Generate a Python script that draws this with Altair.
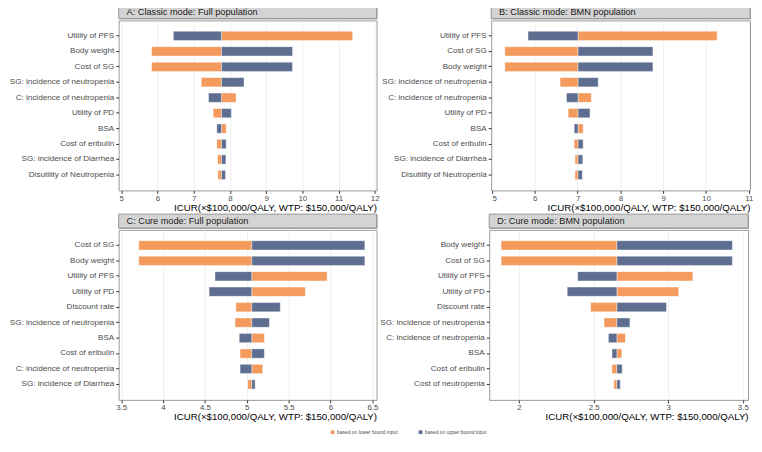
import altair as alt
import pandas as pd

# ---------------- data ----------------
bounds = ["based on lower bound input", "based on upper bound input"]
bound_colors = ["#F39A5C", "#5E6E90"]

titles = ["A: Classic mode: Full population", "B: Classic mode: BMN population",
          "C: Cure mode: Full population", "D: Cure mode: BMN population"]

params_A = ["Utility of PFS", "Body weight", "Cost of SG", "SG: incidence of neutropenia",
            "C: incidence of neutropenia", "Utility of PD", "BSA", "Cost of eribulin",
            "SG: incidence of Diarrhea", "Disutility of Neutropenia"]
lower_A = [11.39, 5.84, 5.84, 7.21, 8.17, 7.54, 7.90, 7.64, 7.66, 7.67]
upper_A = [6.44, 9.73, 9.73, 8.39, 7.41, 8.04, 7.64, 7.90, 7.89, 7.88]
base_A = 7.77
domain_A = [4.93, 12.05]
ticks_A = [5, 6, 7, 8, 9, 10, 11, 12]

params_B = ["Utility of PFS", "Cost of SG", "Body weight", "SG: incidence of neutropenia",
            "C: incidence of neutropenia", "Utility of PD", "BSA", "Cost of eribulin",
            "SG: incidence of Diarrhea", "Disutility of Neutropenia"]
lower_B = [10.26, 5.30, 5.30, 6.59, 7.32, 6.78, 7.13, 6.92, 6.94, 6.94]
upper_B = [5.84, 8.76, 8.76, 7.48, 6.74, 7.29, 6.92, 7.13, 7.12, 7.11]
base_B = 7.01
domain_B = [4.98, 11.03]
ticks_B = [5, 6, 7, 8, 9, 10, 11]

params_C = ["Cost of SG", "Body weight", "Utility of PFS", "Utility of PD", "Discount rate",
            "SG: incidence of neutropenia", "BSA", "Cost of eribulin",
            "C: incidence of neutropenia", "SG: incidence of Diarrhea"]
lower_C = [3.71, 3.71, 5.96, 5.70, 4.87, 4.86, 5.21, 4.92, 5.19, 5.01]
upper_C = [6.41, 6.41, 4.62, 4.55, 5.40, 5.27, 4.91, 5.21, 4.92, 5.10]
base_C = 5.06
domain_C = [3.47, 6.55]
ticks_C = [3.5, 4, 4.5, 5, 5.5, 6, 6.5]

params_D = ["Body weight", "Cost of SG", "Utility of PFS", "Utility of PD", "Discount rate",
            "SG: incidence of neutropenia", "C: incidence of neutropenia", "BSA",
            "Cost of eribulin", "Cost of neutropenia"]
lower_D = [1.88, 1.88, 3.165, 3.07, 2.48, 2.57, 2.713, 2.689, 2.623, 2.636]
upper_D = [3.43, 3.43, 2.393, 2.323, 2.988, 2.743, 2.599, 2.623, 2.691, 2.678]
base_D = 2.656
domain_D = [1.80, 3.535]
ticks_D = [2, 2.5, 3, 3.5]

x_title = "ICUR(×$100,000/QALY, WTP: $150,000/QALY)"

W_LEFT = 261
W_RIGHT = 262
H = 172
STRIP_H = 14
FONT = "Liberation Sans"

legend = alt.Legend(orient="none", legendX=214, legendY=430, direction="horizontal",
                    title=None, symbolType="square", symbolSize=14, symbolStrokeWidth=0,
                    labelFontSize=5, labelColor="#4d4d4d", labelFont=FONT,
                    columnPadding=20, labelOffset=2)


def make_panel(title, params, lower, upper, base, domain, ticks, W):
    rows = []
    for p, lo, up in zip(params, lower, upper):
        rows.append({"param": p, "bound": bounds[0], "value": lo, "base": base})
        rows.append({"param": p, "bound": bounds[1], "value": up, "base": base})
    df = pd.DataFrame(rows)

    main = alt.Chart(df).mark_bar(stroke="white", strokeWidth=0.8, strokeOpacity=0.5).encode(
        y=alt.Y("param:N", sort=params,
                scale=alt.Scale(paddingInner=0.4, paddingOuter=0.7),
                axis=alt.Axis(title=None, labelFontSize=8.2, labelColor="#4d4d4d",
                              labelFont=FONT, tickColor="#333333", tickSize=3,
                              domain=False, grid=False, labelPadding=2)),
        x=alt.X("value:Q",
                scale=alt.Scale(domain=domain, nice=False, zero=False),
                axis=alt.Axis(values=ticks, format="~g", title=x_title,
                              titleAnchor="end", titleFontSize=9.8, titleFont=FONT,
                              titleFontWeight="normal", titleColor="#000000",
                              labelFontSize=8, labelColor="#4d4d4d", labelFont=FONT,
                              tickColor="#333333", tickSize=3, domain=False,
                              grid=True, gridColor="#ebebeb", gridWidth=0.8,
                              labelPadding=1, titlePadding=0)),
        x2="base:Q",
        color=alt.Color("bound:N", scale=alt.Scale(domain=bounds, range=bound_colors),
                        legend=legend),
    ).properties(width=W, height=H)

    sdf = pd.DataFrame({"t": [title]})
    strip_rect = alt.Chart(sdf).mark_rect(fill="#D4D4D4", stroke="#999999", strokeWidth=1).encode(
        x=alt.value(0), x2=alt.value(W), y=alt.value(0), y2=alt.value(STRIP_H))
    strip_text = alt.Chart(sdf).mark_text(align="left", baseline="middle", fontSize=9.3,
                                          font=FONT, color="#1a1a1a").encode(
        x=alt.value(8), y=alt.value(STRIP_H / 2 + 0.5), text="t:N")
    strip = alt.layer(strip_rect, strip_text).properties(width=W, height=STRIP_H)

    return alt.vconcat(strip, main, spacing=0)


pA = make_panel(titles[0], params_A, lower_A, upper_A, base_A, domain_A, ticks_A, W_LEFT)
pB = make_panel(titles[1], params_B, lower_B, upper_B, base_B, domain_B, ticks_B, W_RIGHT)
pC = make_panel(titles[2], params_C, lower_C, upper_C, base_C, domain_C, ticks_C, W_LEFT)
pD = make_panel(titles[3], params_D, lower_D, upper_D, base_D, domain_D, ticks_D, W_RIGHT)

row1 = alt.hconcat(pA, pB, spacing=0).resolve_scale(x="independent", y="independent")
row2 = alt.hconcat(pC, pD, spacing=0).resolve_scale(x="independent", y="independent")

chart = alt.vconcat(row1, row2, spacing=0).resolve_scale(
    x="independent", y="independent", color="shared"
).properties(
    padding={"left": 0, "top": -7, "right": 0, "bottom": 0},
    background="white",
).configure_view(stroke="#999999", strokeWidth=1)

chart.save("out.html", embed_options={"renderer": "svg", "actions": False})
